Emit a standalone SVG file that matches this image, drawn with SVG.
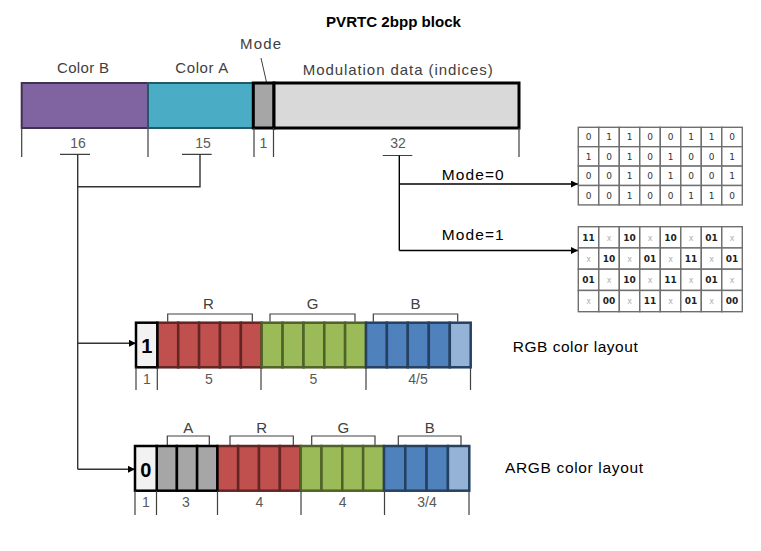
<svg xmlns="http://www.w3.org/2000/svg" width="761" height="551" viewBox="0 0 761 551">
<defs>
<style>
text{font-family:"Liberation Sans",Arial,sans-serif;}
.lbl{font-size:15px;fill:#404040;}
.num{font-size:14px;fill:#595959;text-anchor:middle;}
.blk{font-size:15.5px;fill:#000;}
.tick{stroke:#404040;stroke-width:1.2;fill:none;}
.brk{stroke:#404040;stroke-width:1.2;fill:none;}
.con{stroke:#333;stroke-width:1.4;fill:none;}
.con2{stroke:#000;stroke-width:1.4;fill:none;}
.red{fill:#C0504D;stroke:#632523;stroke-width:2.5;}
.grn{fill:#9BBB59;stroke:#4F6228;stroke-width:2.5;}
.blu{fill:#4F81BD;stroke:#254061;stroke-width:2.5;}
.blu2{fill:#95B3D7;stroke:#254061;stroke-width:2.5;}
.gry{fill:#A6A6A6;stroke:#000;stroke-width:2.5;}
.flag{fill:#F2F2F2;stroke:#000;stroke-width:2.5;}
.cell{fill:#fff;stroke:#6f6f6f;stroke-width:1.4;}
.g{font-family:"DejaVu Sans",sans-serif;font-size:9px;fill:#333;text-anchor:middle;}
.gb{font-family:"DejaVu Sans",sans-serif;font-size:9px;fill:#222;font-weight:bold;text-anchor:middle;}
.gx{font-family:"DejaVu Sans",sans-serif;font-size:8px;fill:#b0b0b0;text-anchor:middle;}
</style>
<marker id="ah" viewBox="0 0 10 10" refX="10" refY="5" markerWidth="8" markerHeight="7" markerUnits="userSpaceOnUse" orient="auto">
<path d="M0,0 L10,5 L0,10 z" fill="#000"/>
</marker>
</defs>
<rect width="761" height="551" fill="#fff"/>

<text x="326" y="27" font-size="14" font-weight="bold" fill="#000" textLength="135" lengthAdjust="spacingAndGlyphs">PVRTC 2bpp block</text>

<g id="block">
<text class="lbl" x="83" y="73" text-anchor="middle" textLength="52">Color B</text>
<text class="lbl" x="201.7" y="73" text-anchor="middle" textLength="53">Color A</text>
<text class="lbl" x="240" y="49" textLength="41">Mode</text>
<line x1="261" y1="58" x2="266.7" y2="83" stroke="#404040" stroke-width="1"/>
<text class="lbl" x="302.7" y="75" textLength="190">Modulation data (indices)</text>
<rect x="21.7" y="83" width="126.3" height="45" fill="#8064A2" stroke="#3F3151" stroke-width="2"/>
<rect x="148" y="83" width="105.3" height="45" fill="#4BACC6" stroke="#215968" stroke-width="2"/>
<rect x="253.3" y="83" width="20.7" height="45" fill="#A6A6A6" stroke="#000" stroke-width="3"/>
<rect x="274" y="83" width="245" height="45" fill="#D9D9D9" stroke="#000" stroke-width="3"/>
<path class="tick" d="M21.7,128 V157 M148,128 V157 M254,128 V157 M273.5,128 V157 M519,128 V157"/>
<text class="num" x="78" y="148">16</text>
<text class="num" x="203" y="148">15</text>
<text class="num" x="263.5" y="148">1</text>
<text class="num" x="398" y="148">32</text>
<path class="tick" d="M60,154.3 H90 M182,154.3 H211.7 M382.7,155.5 H412.3"/>
</g>

<g id="connectors">
<path class="con" d="M77.7,154.3 V469.3 M200,154.3 V186.7 H77.7"/>
<line class="con" x1="77.7" y1="343.3" x2="136" y2="343.3" marker-end="url(#ah)"/>
<line class="con" x1="77.7" y1="469.3" x2="135" y2="469.3" marker-end="url(#ah)"/>
<path class="con2" d="M399.3,155.5 V250.5"/>
<line class="con2" x1="399.3" y1="184" x2="578" y2="184" marker-end="url(#ah)"/>
<line class="con2" x1="399.3" y1="250.5" x2="578" y2="250.5" marker-end="url(#ah)"/>
<text class="blk" x="441.7" y="179.5" textLength="62">Mode=0</text>
<text class="blk" x="441.7" y="239.5" textLength="62">Mode=1</text>
</g>

<g id="grid-mode0">
<g>
<rect class="cell" x="578.3" y="127.3" width="20.5" height="19.4"/><rect class="cell" x="598.8" y="127.3" width="20.5" height="19.4"/><rect class="cell" x="619.3" y="127.3" width="20.5" height="19.4"/><rect class="cell" x="639.8" y="127.3" width="20.5" height="19.4"/><rect class="cell" x="660.3" y="127.3" width="20.5" height="19.4"/><rect class="cell" x="680.8" y="127.3" width="20.5" height="19.4"/><rect class="cell" x="701.3" y="127.3" width="20.5" height="19.4"/><rect class="cell" x="721.8" y="127.3" width="20.5" height="19.4"/>
<rect class="cell" x="578.3" y="146.7" width="20.5" height="19.4"/><rect class="cell" x="598.8" y="146.7" width="20.5" height="19.4"/><rect class="cell" x="619.3" y="146.7" width="20.5" height="19.4"/><rect class="cell" x="639.8" y="146.7" width="20.5" height="19.4"/><rect class="cell" x="660.3" y="146.7" width="20.5" height="19.4"/><rect class="cell" x="680.8" y="146.7" width="20.5" height="19.4"/><rect class="cell" x="701.3" y="146.7" width="20.5" height="19.4"/><rect class="cell" x="721.8" y="146.7" width="20.5" height="19.4"/>
<rect class="cell" x="578.3" y="166.1" width="20.5" height="19.4"/><rect class="cell" x="598.8" y="166.1" width="20.5" height="19.4"/><rect class="cell" x="619.3" y="166.1" width="20.5" height="19.4"/><rect class="cell" x="639.8" y="166.1" width="20.5" height="19.4"/><rect class="cell" x="660.3" y="166.1" width="20.5" height="19.4"/><rect class="cell" x="680.8" y="166.1" width="20.5" height="19.4"/><rect class="cell" x="701.3" y="166.1" width="20.5" height="19.4"/><rect class="cell" x="721.8" y="166.1" width="20.5" height="19.4"/>
<rect class="cell" x="578.3" y="185.5" width="20.5" height="19.4"/><rect class="cell" x="598.8" y="185.5" width="20.5" height="19.4"/><rect class="cell" x="619.3" y="185.5" width="20.5" height="19.4"/><rect class="cell" x="639.8" y="185.5" width="20.5" height="19.4"/><rect class="cell" x="660.3" y="185.5" width="20.5" height="19.4"/><rect class="cell" x="680.8" y="185.5" width="20.5" height="19.4"/><rect class="cell" x="701.3" y="185.5" width="20.5" height="19.4"/><rect class="cell" x="721.8" y="185.5" width="20.5" height="19.4"/>
</g>
<text class="g" y="140.3"><tspan x="588.5">0</tspan><tspan x="609">1</tspan><tspan x="629.5">1</tspan><tspan x="650">0</tspan><tspan x="670.5">0</tspan><tspan x="691">1</tspan><tspan x="711.5">1</tspan><tspan x="732">0</tspan></text>
<text class="g" y="159.7"><tspan x="588.5">1</tspan><tspan x="609">0</tspan><tspan x="629.5">1</tspan><tspan x="650">0</tspan><tspan x="670.5">1</tspan><tspan x="691">0</tspan><tspan x="711.5">0</tspan><tspan x="732">1</tspan></text>
<text class="g" y="179.1"><tspan x="588.5">0</tspan><tspan x="609">0</tspan><tspan x="629.5">1</tspan><tspan x="650">0</tspan><tspan x="670.5">1</tspan><tspan x="691">0</tspan><tspan x="711.5">0</tspan><tspan x="732">1</tspan></text>
<text class="g" y="198.5"><tspan x="588.5">0</tspan><tspan x="609">0</tspan><tspan x="629.5">1</tspan><tspan x="650">0</tspan><tspan x="670.5">0</tspan><tspan x="691">1</tspan><tspan x="711.5">1</tspan><tspan x="732">0</tspan></text>
</g>

<g id="grid-mode1">
<g>
<rect class="cell" x="578.3" y="226.7" width="20.5" height="21.25"/><rect class="cell" x="598.8" y="226.7" width="20.5" height="21.25"/><rect class="cell" x="619.3" y="226.7" width="20.5" height="21.25"/><rect class="cell" x="639.8" y="226.7" width="20.5" height="21.25"/><rect class="cell" x="660.3" y="226.7" width="20.5" height="21.25"/><rect class="cell" x="680.8" y="226.7" width="20.5" height="21.25"/><rect class="cell" x="701.3" y="226.7" width="20.5" height="21.25"/><rect class="cell" x="721.8" y="226.7" width="20.5" height="21.25"/>
<rect class="cell" x="578.3" y="247.95" width="20.5" height="21.25"/><rect class="cell" x="598.8" y="247.95" width="20.5" height="21.25"/><rect class="cell" x="619.3" y="247.95" width="20.5" height="21.25"/><rect class="cell" x="639.8" y="247.95" width="20.5" height="21.25"/><rect class="cell" x="660.3" y="247.95" width="20.5" height="21.25"/><rect class="cell" x="680.8" y="247.95" width="20.5" height="21.25"/><rect class="cell" x="701.3" y="247.95" width="20.5" height="21.25"/><rect class="cell" x="721.8" y="247.95" width="20.5" height="21.25"/>
<rect class="cell" x="578.3" y="269.2" width="20.5" height="21.25"/><rect class="cell" x="598.8" y="269.2" width="20.5" height="21.25"/><rect class="cell" x="619.3" y="269.2" width="20.5" height="21.25"/><rect class="cell" x="639.8" y="269.2" width="20.5" height="21.25"/><rect class="cell" x="660.3" y="269.2" width="20.5" height="21.25"/><rect class="cell" x="680.8" y="269.2" width="20.5" height="21.25"/><rect class="cell" x="701.3" y="269.2" width="20.5" height="21.25"/><rect class="cell" x="721.8" y="269.2" width="20.5" height="21.25"/>
<rect class="cell" x="578.3" y="290.45" width="20.5" height="21.25"/><rect class="cell" x="598.8" y="290.45" width="20.5" height="21.25"/><rect class="cell" x="619.3" y="290.45" width="20.5" height="21.25"/><rect class="cell" x="639.8" y="290.45" width="20.5" height="21.25"/><rect class="cell" x="660.3" y="290.45" width="20.5" height="21.25"/><rect class="cell" x="680.8" y="290.45" width="20.5" height="21.25"/><rect class="cell" x="701.3" y="290.45" width="20.5" height="21.25"/><rect class="cell" x="721.8" y="290.45" width="20.5" height="21.25"/>
</g>
<text class="gb" y="240.6"><tspan x="588.5">11</tspan><tspan x="629.5">10</tspan><tspan x="670.5">10</tspan><tspan x="711.5">01</tspan></text>
<text class="gx" y="240.6"><tspan x="609">x</tspan><tspan x="650">x</tspan><tspan x="691">x</tspan><tspan x="732">x</tspan></text>
<text class="gb" y="261.9"><tspan x="609">10</tspan><tspan x="650">01</tspan><tspan x="691">11</tspan><tspan x="732">01</tspan></text>
<text class="gx" y="261.9"><tspan x="588.5">x</tspan><tspan x="629.5">x</tspan><tspan x="670.5">x</tspan><tspan x="711.5">x</tspan></text>
<text class="gb" y="283.1"><tspan x="588.5">01</tspan><tspan x="629.5">10</tspan><tspan x="670.5">11</tspan><tspan x="711.5">01</tspan></text>
<text class="gx" y="283.1"><tspan x="609">x</tspan><tspan x="650">x</tspan><tspan x="691">x</tspan><tspan x="732">x</tspan></text>
<text class="gb" y="304.4"><tspan x="609">00</tspan><tspan x="650">11</tspan><tspan x="691">01</tspan><tspan x="732">00</tspan></text>
<text class="gx" y="304.4"><tspan x="588.5">x</tspan><tspan x="629.5">x</tspan><tspan x="670.5">x</tspan><tspan x="711.5">x</tspan></text>
</g>

<g id="rgb-layout">
<path class="brk" d="M167.7,321.7 V314 H252.3 V321.7 M270,321.7 V314 H355 V321.7 M373.3,321.7 V314 H457.7 V321.7"/>
<text class="lbl" x="208.3" y="309" text-anchor="middle">R</text>
<text class="lbl" x="312.5" y="309" text-anchor="middle">G</text>
<text class="lbl" x="415.5" y="309" text-anchor="middle">B</text>
<rect class="red" x="157.3" y="322.7" width="20.9" height="44.6"/><rect class="red" x="178.2" y="322.7" width="20.9" height="44.6"/><rect class="red" x="199.1" y="322.7" width="20.9" height="44.6"/><rect class="red" x="220" y="322.7" width="20.9" height="44.6"/><rect class="red" x="240.9" y="322.7" width="20.8" height="44.6"/>
<rect class="grn" x="261.7" y="322.7" width="20.9" height="44.6"/><rect class="grn" x="282.6" y="322.7" width="20.9" height="44.6"/><rect class="grn" x="303.5" y="322.7" width="20.8" height="44.6"/><rect class="grn" x="324.3" y="322.7" width="20.8" height="44.6"/><rect class="grn" x="345.1" y="322.7" width="20.9" height="44.6"/>
<rect class="blu" x="366" y="322.7" width="20.9" height="44.6"/><rect class="blu" x="386.9" y="322.7" width="20.9" height="44.6"/><rect class="blu" x="407.8" y="322.7" width="21" height="44.6"/><rect class="blu" x="428.8" y="322.7" width="21" height="44.6"/><rect class="blu2" x="449.8" y="322.7" width="20.9" height="44.6"/>
<rect class="flag" x="136" y="322.7" width="21.3" height="44.6"/>
<text x="146.7" y="353.3" font-size="20" font-weight="bold" fill="#000" text-anchor="middle">1</text>
<path class="tick" d="M136,367.3 V390 M157.3,367.3 V390 M261,367.3 V390 M366,367.3 V390 M470.5,367.3 V390"/>
<text class="num" x="147" y="384">1</text>
<text class="num" x="209" y="384">5</text>
<text class="num" x="313.5" y="384">5</text>
<text class="num" x="418" y="384">4/5</text>
<text class="blk" x="512.7" y="351.7" font-size="16" textLength="125">RGB color layout</text>
</g>

<g id="argb-layout">
<path class="brk" d="M167.3,445 V436 H209.3 V445 M230,445 V436 H293.3 V445 M311.7,445 V436 H375 V445 M398.3,445 V436 H461 V445"/>
<text class="lbl" x="188.3" y="433" text-anchor="middle">A</text>
<text class="lbl" x="261.7" y="433" text-anchor="middle">R</text>
<text class="lbl" x="343.3" y="433" text-anchor="middle">G</text>
<text class="lbl" x="429.7" y="433" text-anchor="middle">B</text>
<rect class="red" x="217.3" y="446" width="20.85" height="44.7"/><rect class="red" x="238.15" y="446" width="20.85" height="44.7"/><rect class="red" x="259" y="446" width="20.85" height="44.7"/><rect class="red" x="279.85" y="446" width="20.85" height="44.7"/>
<rect class="grn" x="300.7" y="446" width="20.8" height="44.7"/><rect class="grn" x="321.5" y="446" width="20.8" height="44.7"/><rect class="grn" x="342.3" y="446" width="20.85" height="44.7"/><rect class="grn" x="363.15" y="446" width="20.85" height="44.7"/>
<rect class="blu" x="384" y="446" width="21.3" height="44.7"/><rect class="blu" x="405.3" y="446" width="21.3" height="44.7"/><rect class="blu" x="426.6" y="446" width="21.35" height="44.7"/><rect class="blu2" x="447.95" y="446" width="21.35" height="44.7"/>
<rect class="gry" x="156.7" y="446" width="20.2" height="44.7"/><rect class="gry" x="176.9" y="446" width="20.2" height="44.7"/><rect class="gry" x="197.1" y="446" width="20.2" height="44.7"/>
<rect class="flag" x="135" y="446" width="21.7" height="44.7"/>
<text x="145.8" y="476.5" font-size="20" font-weight="bold" fill="#000" text-anchor="middle">0</text>
<path class="tick" d="M135,490.7 V515 M156.5,490.7 V515 M217.5,490.7 V515 M301,490.7 V515 M384.5,490.7 V515 M469,490.7 V515"/>
<text class="num" x="146" y="507">1</text>
<text class="num" x="186" y="507">3</text>
<text class="num" x="259.3" y="507">4</text>
<text class="num" x="342.7" y="507">4</text>
<text class="num" x="427" y="507">3/4</text>
<text class="blk" x="505" y="472.7" font-size="16" textLength="138">ARGB color layout</text>
</g>
</svg>
